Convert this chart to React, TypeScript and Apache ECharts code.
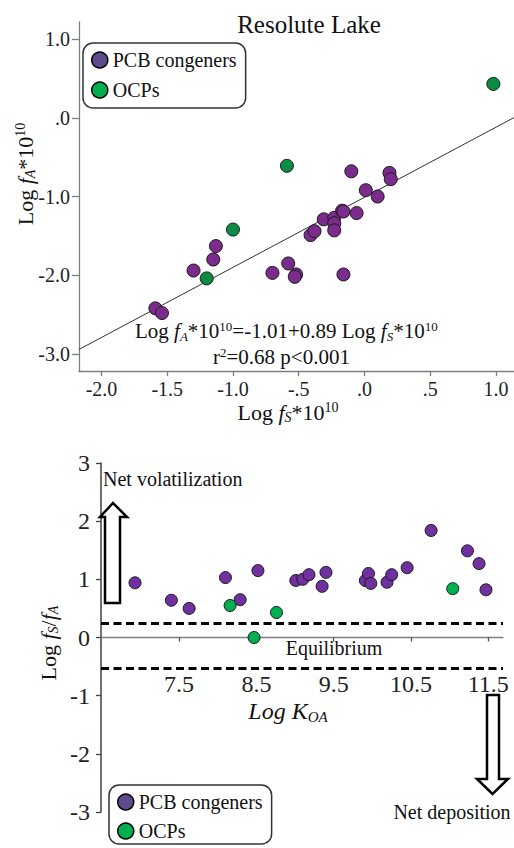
import React, { useEffect, useRef } from 'react';
import * as echarts from 'echarts';

const FONT = "'Liberation Serif', 'Times New Roman', serif";

// ---------- Top panel (Resolute Lake fugacity regression) ----------
const topPcbX = [-1.59, -1.54, -1.30, -1.15, -1.13, -0.70, -0.58, -0.52, -0.53, -0.16, -0.41, -0.38, -0.31, -0.23, -0.23, -0.23, -0.17, -0.16, -0.06, -0.10, 0.01, 0.10, 0.19, 0.20];
const topPcbY = [-2.42, -2.48, -1.94, -1.80, -1.63, -1.97, -1.85, -1.99, -2.02, -1.99, -1.49, -1.44, -1.29, -1.27, -1.34, -1.43, -1.18, -1.19, -1.21, -0.68, -0.92, -1.00, -0.70, -0.78];
const topOcpX = [0.98, -0.59, -1.00, -1.20];
const topOcpY = [0.43, -0.61, -1.42, -2.04];
const regIntercept = -1.01;
const regSlope = 0.89;
const topXMin = -2.171;
const topXMax = 1.137;
const topYMin = -3.216;
const topYMax = 1.216;
const topXTicks = [-2, -1.5, -1, -0.5, 0, 0.5, 1];
const topXTickLabels = ['-2.0', '-1.5', '-1.0', '-.5', '.0', '.5', '1.0'];
const topYTicks = [-3, -2, -1, 0, 1];
const topYTickLabels = ['-3.0', '-2.0', '-1.0', '.0', '1.0'];

// ---------- Bottom panel (fugacity ratio vs log KOA) ----------
const botPcbX = [6.93, 7.40, 7.63, 8.10, 8.29, 8.52, 9.01, 9.10, 9.18, 9.35, 9.40, 9.91, 9.95, 9.98, 10.19, 10.25, 10.45, 10.76, 11.23, 11.38, 11.47];
const botPcbY = [0.94, 0.64, 0.50, 1.03, 0.65, 1.15, 0.98, 1.00, 1.08, 0.88, 1.12, 0.98, 1.10, 0.93, 0.95, 1.08, 1.20, 1.84, 1.49, 1.27, 0.82];
const botOcpX = [8.16, 8.47, 8.76, 11.04];
const botOcpY = [0.55, 0.00, 0.43, 0.84];
const equilibriumBand = [0.24, -0.53];
const botXMin = 6.49;
const botXMax = 11.69;
const botYMin = -3;
const botYMax = 3;
const botXTicks = [7.5, 8.5, 9.5, 10.5, 11.5];
const botXTickLabels = ['7.5', '8.5', '9.5', '10.5', '11.5'];

const seriesNames = ['PCB congeners', 'OCPs'];

const zip = (xs: number[], ys: number[]) => xs.map((x, i) => [x, ys[i]]);
const lookup = (vals: number[], labels: string[]) => (v: number) => {
  const i = vals.findIndex((t) => Math.abs(t - v) < 1e-6);
  return i >= 0 ? labels[i] : '';
};

const rich = (size: number, italicAll = false) => ({
  n: { fontSize: size, fontFamily: FONT, fill: '#111', color: '#111', lineHeight: size + 2, fontStyle: italicAll ? 'italic' : 'normal' },
  i: { fontSize: size, fontFamily: FONT, fill: '#111', color: '#111', lineHeight: size + 2, fontStyle: 'italic' },
  sub: { fontSize: Math.round(size * 0.62), fontFamily: FONT, fill: '#111', color: '#111', lineHeight: Math.round(size * 0.62), fontStyle: 'italic', verticalAlign: 'bottom' },
  sup: { fontSize: Math.round(size * 0.62), fontFamily: FONT, fill: '#111', color: '#111', lineHeight: Math.round(size * 0.62), verticalAlign: 'top' },
});

const axisGrey = '#7f7f7f';

const legendBase = (left: number, top: number, pad: number[], gap: number) => ({
  left,
  top,
  orient: 'vertical',
  padding: pad,
  itemGap: gap,
  itemWidth: 16,
  itemHeight: 16,
  icon: 'circle',
  borderColor: '#333',
  borderWidth: 1.5,
  borderRadius: 10,
  selectedMode: false,
  textStyle: { fontFamily: FONT, fontSize: 20, color: '#111', lineHeight: 20 },
  data: [
    { name: seriesNames[0], itemStyle: { color: '#5e4b8b', borderColor: '#000', borderWidth: 1.5 } },
    { name: seriesNames[1], itemStyle: { color: '#00b050', borderColor: '#000', borderWidth: 1.5 } },
  ],
});

const gridTop = { left: 79, top: 22, width: 435, height: 349 };
const gridBot = { left: 101, top: 463, width: 402, height: 349 };
// distance of the y = 0 line above the bottom grid's lower edge
const botZeroOffset = (gridBot.height * (0 - botYMin)) / (botYMax - botYMin);

const option: any = {
  animation: false,
  backgroundColor: '#ffffff',
  grid: [
    { ...gridTop, containLabel: false, outerBoundsMode: 'none' },
    { ...gridBot, containLabel: false, outerBoundsMode: 'none' },
  ],
  xAxis: [
    {
      type: 'value', gridIndex: 0, min: topXMin, max: topXMax,
      axisLine: { show: true, onZero: false, lineStyle: { color: axisGrey, width: 1.3 } },
      axisTick: { show: true, length: 5, customValues: topXTicks, lineStyle: { color: axisGrey, width: 1.3 } },
      axisLabel: { customValues: topXTicks, formatter: lookup(topXTicks, topXTickLabels), fontSize: 20, fontFamily: FONT, color: '#222', margin: 8 },
      splitLine: { show: false },
    },
    {
      type: 'value', gridIndex: 1, min: botXMin, max: botXMax, position: 'bottom', offset: -botZeroOffset,
      axisLine: { show: true, onZero: false, lineStyle: { color: axisGrey, width: 1.3 } },
      axisTick: { show: true, length: 4, customValues: botXTicks, lineStyle: { color: '#555', width: 1.3 } },
      axisLabel: { customValues: botXTicks, formatter: lookup(botXTicks, botXTickLabels), fontSize: 24, fontFamily: FONT, color: '#222', margin: 34 },
      splitLine: { show: false },
    },
  ],
  yAxis: [
    {
      type: 'value', gridIndex: 0, min: topYMin, max: topYMax,
      axisLine: { show: true, onZero: false, lineStyle: { color: axisGrey, width: 1.3 } },
      axisTick: { show: true, length: 7, customValues: topYTicks, lineStyle: { color: axisGrey, width: 1.3 } },
      axisLabel: { customValues: topYTicks, formatter: lookup(topYTicks, topYTickLabels), fontSize: 20, fontFamily: FONT, color: '#222', margin: 9 },
      splitLine: { show: false },
    },
    {
      type: 'value', gridIndex: 1, min: botYMin, max: botYMax, interval: 1,
      axisLine: { show: true, onZero: false, lineStyle: { color: '#404040', width: 1.5 } },
      axisTick: { show: true, length: 5, lineStyle: { color: '#404040', width: 1.3 } },
      axisLabel: { fontSize: 24, fontFamily: FONT, color: '#222', margin: 11 },
      splitLine: { show: false },
    },
  ],
  legend: [legendBase(83, 43, [7, 9, 8, 8], 10), legendBase(109, 785, [7, 9, 3, 8], 9)],
  series: [
    {
      name: 'regression', type: 'line', xAxisIndex: 0, yAxisIndex: 0, silent: true,
      symbol: 'none', lineStyle: { color: '#333', width: 1 }, z: 1,
      data: [[topXMin, regIntercept + regSlope * topXMin], [topXMax, regIntercept + regSlope * topXMax]],
    },
    {
      name: seriesNames[1], type: 'scatter', xAxisIndex: 0, yAxisIndex: 0, symbolSize: 13, z: 2,
      itemStyle: { color: '#0b8c45', borderColor: '#1a1a1a', borderWidth: 1, opacity: 1 },
      data: zip(topOcpX, topOcpY),
    },
    {
      name: seriesNames[0], type: 'scatter', xAxisIndex: 0, yAxisIndex: 0, symbolSize: 13, z: 3,
      itemStyle: { color: '#7b2b8b', borderColor: '#1a1a1a', borderWidth: 1, opacity: 1 },
      data: zip(topPcbX, topPcbY),
    },
    {
      name: seriesNames[0], type: 'scatter', xAxisIndex: 1, yAxisIndex: 1, symbolSize: 12, z: 3,
      itemStyle: { color: '#7030a0', borderColor: '#1a1a1a', borderWidth: 1, opacity: 1 },
      data: zip(botPcbX, botPcbY),
      markLine: {
        silent: true, symbol: ['none', 'none'], label: { show: false },
        lineStyle: { type: [8, 4.5], width: 3, color: '#000' },
        data: equilibriumBand.map((v) => ({ yAxis: v })),
      },
    },
    {
      name: seriesNames[1], type: 'scatter', xAxisIndex: 1, yAxisIndex: 1, symbolSize: 12, z: 4,
      itemStyle: { color: '#00b050', borderColor: '#1a1a1a', borderWidth: 1, opacity: 1 },
      data: zip(botOcpX, botOcpY),
    },
  ],
  graphic: [
    { type: 'text', x: 309, y: 24, style: { text: 'Resolute Lake', fontSize: 25, fontFamily: FONT, fill: '#111', align: 'center', verticalAlign: 'middle' } },
    { type: 'text', x: 25, y: 174, rotation: Math.PI / 2, style: { text: '{n|Log }{i|f}{sub|A}{n|*10}{sup|10}', rich: rich(22), align: 'center', verticalAlign: 'middle' } },
    { type: 'text', x: 288, y: 412, style: { text: '{n|Log }{i|f}{sub|S}{n|*10}{sup|10}', rich: rich(22), align: 'center', verticalAlign: 'middle' } },
    { type: 'text', x: 135, y: 331, style: { text: '{n|Log }{i|f}{sub|A}{n|*10}{sup|10}{n|=-1.01+0.89 Log }{i|f}{sub|S}{n|*10}{sup|10}', rich: rich(21), align: 'left', verticalAlign: 'middle' } },
    { type: 'text', x: 213, y: 357, style: { text: '{n|r}{sup|2}{n|=0.68 p<0.001}', rich: rich(21), align: 'left', verticalAlign: 'middle' } },
    { type: 'text', x: 103, y: 479, style: { text: 'Net volatilization', fontSize: 20, fontFamily: FONT, fill: '#111', align: 'left', verticalAlign: 'middle' } },
    { type: 'polygon', shape: { points: [[105, 603], [120, 603], [120, 517], [127, 517], [113, 503], [100, 517], [105, 517]] }, style: { fill: '#fff', stroke: '#000', lineWidth: 2.5 }, z: 10 },
    { type: 'text', x: 334, y: 648, style: { text: 'Equilibrium', fontSize: 20, fontFamily: FONT, fill: '#111', align: 'center', verticalAlign: 'middle' } },
    { type: 'polygon', shape: { points: [[487, 695], [499, 695], [499, 779], [508, 779], [492.5, 794], [477, 779], [487, 779]] }, style: { fill: '#fff', stroke: '#000', lineWidth: 2.5 }, z: 10 },
    { type: 'text', x: 452, y: 812, style: { text: 'Net deposition', fontSize: 20, fontFamily: FONT, fill: '#111', align: 'center', verticalAlign: 'middle' } },
    { type: 'text', x: 288, y: 711, style: { text: '{n|Log }{n|K}{sub|OA}', rich: rich(24, true), align: 'center', verticalAlign: 'middle' } },
    { type: 'text', x: 48, y: 643, rotation: Math.PI / 2, style: { text: '{n|Log }{i|f}{sub|S}{n|/}{i|f}{sub|A}', rich: rich(22), align: 'center', verticalAlign: 'middle' } },
  ],
};

export default function App() {
  const ref = useRef<HTMLDivElement>(null);
  useEffect(() => {
    document.body.style.margin = '0';
    const chart = echarts.init(ref.current as HTMLDivElement, null, { renderer: 'svg' });
    chart.setOption(option);
    return () => chart.dispose();
  }, []);
  return <div ref={ref} style={{ position: 'absolute', left: 0, top: 0, width: 514, height: 848 }} />;
}
